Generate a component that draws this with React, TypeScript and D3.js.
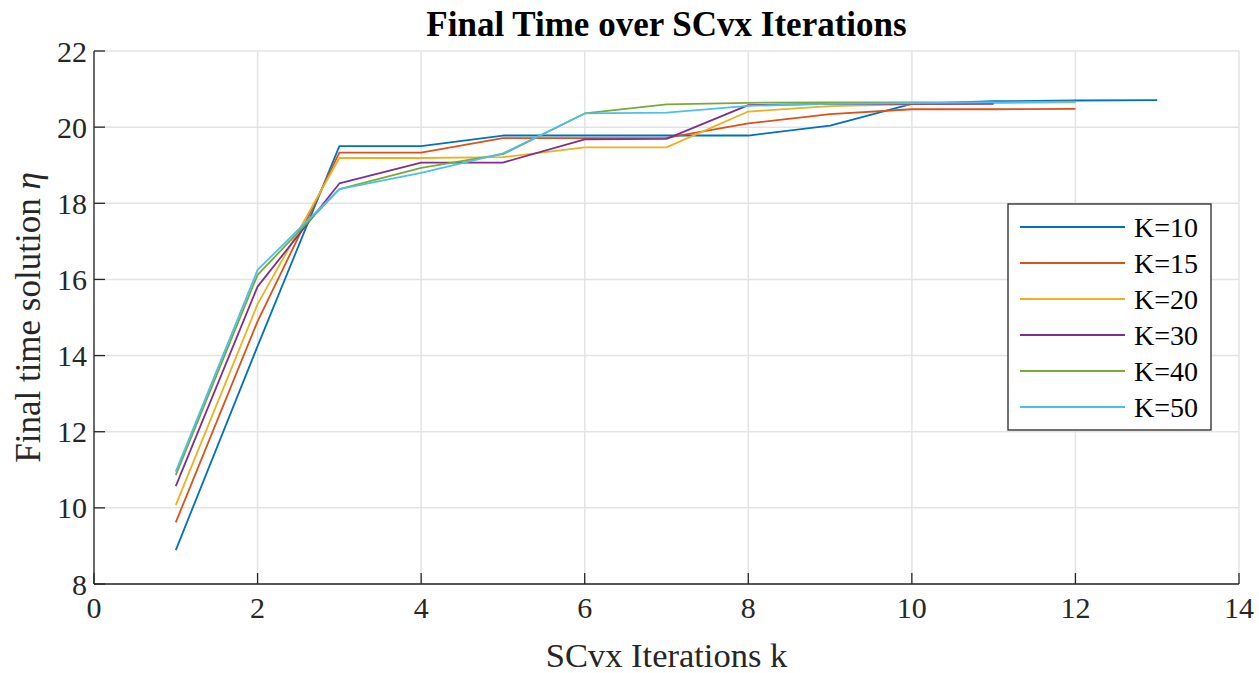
import React from "react";
import * as d3 from "d3";

const seriesNames = ["K=10", "K=15", "K=20", "K=30", "K=40", "K=50"];
const seriesColors = ["#0072BD", "#D95319", "#EDB120", "#7E2F8E", "#77AC30", "#4DBEEE"];

const k10 = [8.89, 14.25, 19.5, 19.5, 19.78, 19.78, 19.78, 19.78, 20.04, 20.61, 20.68, 20.7, 20.71];
const k15 = [9.62, 14.9, 19.33, 19.33, 19.71, 19.71, 19.72, 20.1, 20.34, 20.47, 20.47, 20.48];
const k20 = [10.07, 15.35, 19.19, 19.19, 19.21, 19.47, 19.47, 20.41, 20.55, 20.6, 20.63, 20.65];
const k30 = [10.57, 15.81, 18.52, 19.07, 19.07, 19.68, 19.69, 20.58, 20.61, 20.61, 20.61];
const k40 = [10.86, 16.12, 18.37, 18.93, 19.29, 20.36, 20.6, 20.64, 20.65, 20.65, 20.65];
const k50 = [10.95, 16.25, 18.37, 18.8, 19.31, 20.36, 20.38, 20.56, 20.61, 20.63, 20.65, 20.67];

const seriesValues = [k10, k15, k20, k30, k40, k50];

const xTicks = [0, 2, 4, 6, 8, 10, 12, 14];
const yTicks = [8, 10, 12, 14, 16, 18, 20, 22];

const W = 1259;
const H = 673;
const M = { left: 94, right: 20, top: 51, bottom: 89 };

export default function App() {
  const x = d3.scaleLinear().domain([0, 14]).range([M.left, W - M.right]);
  const y = d3.scaleLinear().domain([8, 22]).range([H - M.bottom, M.top]);
  const line = d3
    .line<[number, number]>()
    .x((d) => x(d[0]))
    .y((d) => y(d[1]));

  const font = "'Liberation Serif', 'Times New Roman', serif";
  const axisColor = "#262626";
  const gridColor = "#e3e3e3";
  const tickLen = 11;

  const legend = { x: 1008, y: 204, w: 203, h: 226, row: 36 };

  return (
    <div style={{ position: "absolute", left: 0, top: 0 }}>
      <svg width={W} height={H} style={{ display: "block", background: "#fff" }} fontFamily={font}>
        {/* grid */}
        {xTicks.map((t) => (
          <line key={"gx" + t} x1={x(t)} x2={x(t)} y1={y(8)} y2={y(22)} stroke={gridColor} strokeWidth={1.5} />
        ))}
        {yTicks.map((t) => (
          <line key={"gy" + t} x1={x(0)} x2={x(14)} y1={y(t)} y2={y(t)} stroke={gridColor} strokeWidth={1.5} />
        ))}

        {/* series */}
        {seriesValues.map((vals, i) => (
          <path
            key={seriesNames[i]}
            d={line(vals.map((v, j) => [j + 1, v] as [number, number])) || ""}
            fill="none"
            stroke={seriesColors[i]}
            strokeWidth={1.8}
            strokeLinejoin="round"
          />
        ))}

        {/* axes */}
        <line x1={x(0)} x2={x(0)} y1={y(8)} y2={y(22)} stroke={axisColor} strokeWidth={1.3} />
        <line x1={x(0)} x2={x(14)} y1={y(8)} y2={y(8)} stroke={axisColor} strokeWidth={1.3} />
        {xTicks.map((t) => (
          <g key={"tx" + t}>
            <line x1={x(t)} x2={x(t)} y1={y(8)} y2={y(8) - tickLen} stroke={axisColor} strokeWidth={1.3} />
            <text x={x(t)} y={y(8) + 34} textAnchor="middle" fontSize={30} fill={axisColor}>
              {t}
            </text>
          </g>
        ))}
        {yTicks.map((t) => (
          <g key={"ty" + t}>
            <line x1={x(0)} x2={x(0) + tickLen} y1={y(t)} y2={y(t)} stroke={axisColor} strokeWidth={1.3} />
            <text x={x(0) - 7} y={y(t)} dy="0.35em" textAnchor="end" fontSize={30} fill={axisColor}>
              {t}
            </text>
          </g>
        ))}

        {/* labels */}
        <text x={(x(0) + x(14)) / 2} y={36} textAnchor="middle" fontSize={35} fontWeight="bold" fill="#000">
          Final Time over SCvx Iterations
        </text>
        <text x={(x(0) + x(14)) / 2} y={667} textAnchor="middle" fontSize={34.5} fill={axisColor}>
          SCvx Iterations k
        </text>
        <text
          transform={`translate(40, ${(y(8) + y(22)) / 2}) rotate(-90)`}
          textAnchor="middle"
          fontSize={35}
          fill={axisColor}
        >
          Final time solution <tspan fontStyle="italic">η</tspan>
        </text>

        {/* legend */}
        <rect x={legend.x} y={legend.y} width={legend.w} height={legend.h} fill="#fff" stroke={axisColor} strokeWidth={1.3} />
        {seriesNames.map((name, i) => {
          const cy = legend.y + 23 + i * legend.row;
          return (
            <g key={"lg" + name}>
              <line x1={1020} x2={1125} y1={cy} y2={cy} stroke={seriesColors[i]} strokeWidth={1.8} />
              <text x={1134} y={cy} dy="0.35em" fontSize={28} fill="#000">
                {name}
              </text>
            </g>
          );
        })}
      </svg>
    </div>
  );
}
